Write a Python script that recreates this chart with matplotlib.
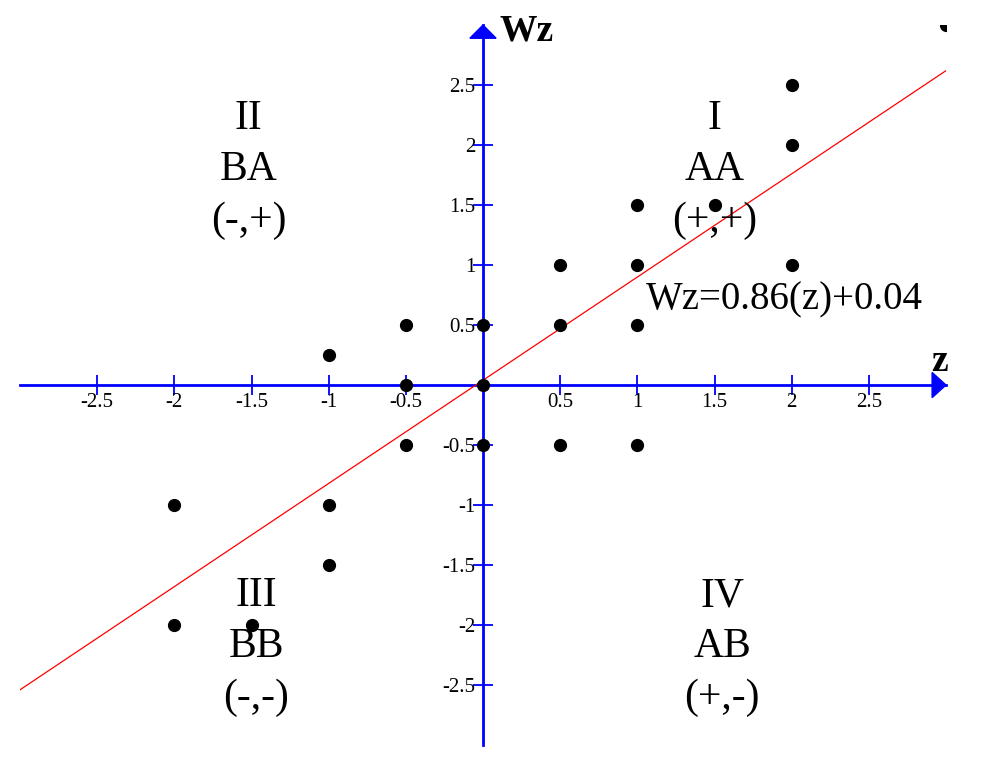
import numpy as np
import matplotlib
matplotlib.use('Agg')
import matplotlib.pyplot as plt
from matplotlib.patches import Polygon

# data points (z, Wz)
z_pts = [2, 2, 2, 1.5, 1, 1, 1, 0.5, 0.5, 0, 0, -0.5, -0.5, -1,
         -0.5, 0, 0.5, 1, -1, -1, -2, -2, -1.5, 3]
wz_pts = [2.5, 2, 1, 1.5, 1.5, 1, 0.5, 1, 0.5, 0.5, 0, 0.5, 0, 0.25,
          -0.5, -0.5, -0.5, -0.5, -1, -1.5, -1, -2, -2, 3]

slope = 0.86
intercept = 0.04

ticks = [-2.5, -2, -1.5, -1, -0.5, 0.5, 1, 1.5, 2, 2.5]
tick_labels = ['-2.5', '-2', '-1.5', '-1', '-0.5', '0.5', '1', '1.5', '2', '2.5']

quadrants = [
    (1.5, ['I', 'AA', '(+,+)'], 1),
    (-1.52, ['II', 'BA', '(-,+)'], 1),
    (-1.47, ['III', 'BB', '(-,-)'], -1),
    (1.55, ['IV', 'AB', '(+,-)'], -1),
]

plt.rcParams['font.family'] = ['Liberation Serif', 'DejaVu Serif']

fig = plt.figure(figsize=(10, 7.78), dpi=100)
ax = fig.add_axes([0.02, 0.0424, 0.926, 0.9254])
ax.set_xlim(-3, 3)
ax.set_ylim(-3, 3)

for s in ['top', 'right']:
    ax.spines[s].set_visible(False)
for s in ['left', 'bottom']:
    ax.spines[s].set_position('zero')
    ax.spines[s].set_color('blue')
    ax.spines[s].set_linewidth(2)

ax.set_xticks(ticks)
ax.set_xticklabels(tick_labels)
ax.set_yticks(ticks)
ax.set_yticklabels(tick_labels)
ax.tick_params(direction='inout', length=15, width=1.3, color='blue',
               labelcolor='black', labelsize=15)
ax.tick_params(axis='x', pad=-2)
ax.tick_params(axis='y', pad=-2)

# arrow heads
ax.add_patch(Polygon([[3.0, 0], [2.91, 0.105], [2.91, -0.105]], closed=True,
                     color='blue', clip_on=False, zorder=5))
ax.add_patch(Polygon([[0, 3.0], [-0.085, 2.89], [0.085, 2.89]], closed=True,
                     color='blue', clip_on=False, zorder=5))
ax.text(0.11, 2.95, 'Wz', fontsize=27, fontweight='bold', va='center', ha='left')
ax.text(2.96, 0.2, 'z', fontsize=27, fontweight='bold', va='center', ha='center')

# regression line
xl = np.array([-3, 3])
ax.plot(xl, slope * xl + intercept, color='red', lw=0.9, zorder=3)

ax.plot(z_pts, wz_pts, 'o', color='black', markersize=8.5, zorder=4)

ax.text(1.955, 0.71, 'Wz=0.86(z)+0.04', fontsize=28, ha='center', va='center')

for qx, lines, sgn in quadrants:
    y0 = 2.22 if sgn > 0 else -1.76
    for i, t in enumerate(lines):
        ax.text(qx, y0 - i * 0.425, t, fontsize=30, ha='center', va='center')

fig.savefig('out.png', dpi=100)
